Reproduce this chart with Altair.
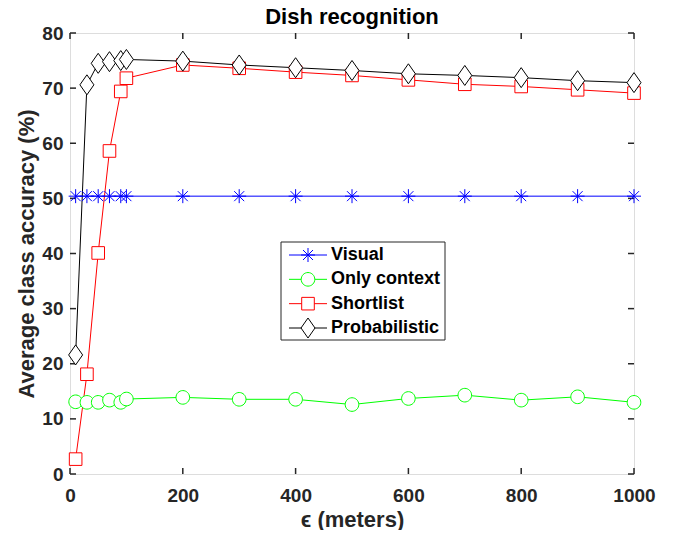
import altair as alt
import pandas as pd

x_vals = [10, 30, 50, 70, 90, 100, 200, 300, 400, 500, 600, 700, 800, 900, 1000]
visual = [50.4, 50.4, 50.4, 50.4, 50.4, 50.4, 50.4, 50.4, 50.4, 50.4, 50.4, 50.4, 50.4, 50.4, 50.4]
only_context = [13.1, 13.0, 13.0, 13.4, 13.0, 13.6, 13.9, 13.55, 13.55, 12.6, 13.7, 14.3, 13.4, 14.0, 13.0]
shortlist = [2.7, 18.1, 40.1, 58.6, 69.4, 71.8, 74.2, 73.6, 72.9, 72.3, 71.5, 70.7, 70.3, 69.7, 69.1]
probabilistic = [21.6, 70.6, 74.5, 74.8, 75.0, 75.2, 74.9, 74.2, 73.7, 73.2, 72.6, 72.3, 71.9, 71.35, 71.0]

series_names = ["Visual", "Only context", "Shortlist", "Probabilistic"]
series_colors = ["#0000ff", "#00ff00", "#ff0000", "#000000"]
x_ticks = [0, 200, 400, 600, 800, 1000]
y_ticks = [0, 10, 20, 30, 40, 50, 60, 70, 80]

marker_paths = [
    "M-0.7,0L0.7,0M0,-0.7L0,0.7M-0.5,-0.5L0.5,0.5M-0.5,0.5L0.5,-0.5",
    "M-0.68,0A0.68,0.68,0,1,0,0.68,0A0.68,0.68,0,1,0,-0.68,0Z",
    "M-0.63,-0.63L0.63,-0.63L0.63,0.63L-0.63,0.63Z",
    "M0,-1L0.7,0L0,1L-0.7,0Z",
]

rows = []
for name, vals in zip(series_names, [visual, only_context, shortlist, probabilistic]):
    for xv, yv in zip(x_vals, vals):
        rows.append({"series": name, "x": xv, "y": yv})
df = pd.DataFrame(rows)
leg_df = pd.DataFrame({"series": series_names})

FONT = "Liberation Sans"
AX = "#262626"
W, H = 564, 441

x_scale = alt.Scale(domain=[0, 1000], nice=False, zero=False)
y_scale = alt.Scale(domain=[0, 80], nice=False, zero=False)
stroke_scale = alt.Scale(domain=series_names, range=series_colors)

x_enc = alt.X(
    "x:Q", scale=x_scale,
    axis=alt.Axis(values=x_ticks, format="d", grid=False, domain=False, tickSize=0, labelFlush=False,
                  labelOverlap=False, labelFont=FONT, labelFontSize=19, labelFontWeight="bold",
                  labelColor=AX, labelPadding=12, title="ϵ (meters)", titleFont=FONT,
                  titleFontSize=22, titleFontWeight="bold", titleColor=AX,
                  titleX=282, titleY=52, titleBaseline="alphabetic"),
)
y_enc = alt.Y(
    "y:Q", scale=y_scale,
    axis=alt.Axis(values=y_ticks, grid=False, domain=False, tickSize=0, labelFlush=False,
                  labelOverlap=False, labelFont=FONT, labelFontSize=19, labelFontWeight="bold",
                  labelColor=AX, labelPadding=7, title="Average class accuracy (%)", titleFont=FONT,
                  titleFontSize=22, titleFontWeight="bold", titleColor=AX,
                  titleX=-37, titleY=220.5, titleBaseline="alphabetic"),
)

lines = alt.Chart(df).mark_line(strokeWidth=1).encode(
    x=x_enc, y=y_enc,
    stroke=alt.Stroke("series:N", scale=stroke_scale, legend=None),
    detail="series:N",
)

point_layers = []
for name, color, path in zip(series_names, series_colors, marker_paths):
    point_layers.append(
        alt.Chart(df).transform_filter(alt.datum.series == name).mark_point(
            shape=path, size=400, filled=False, fill="white", stroke=color,
            strokeWidth=1, opacity=1
        ).encode(x="x:Q", y="y:Q")
    )

xt = pd.DataFrame({"t": x_ticks})
yt = pd.DataFrame({"t": y_ticks})
tick_bottom = alt.Chart(xt).mark_rule(color=AX, strokeWidth=1.5).encode(
    x="t:Q", y=alt.value(H), y2=alt.value(H - 6))
tick_top = alt.Chart(xt).mark_rule(color=AX, strokeWidth=1.5).encode(
    x="t:Q", y=alt.value(0), y2=alt.value(6))
tick_left = alt.Chart(yt).mark_rule(color=AX, strokeWidth=1.5).encode(
    y="t:Q", x=alt.value(0), x2=alt.value(6))
tick_right = alt.Chart(yt).mark_rule(color=AX, strokeWidth=1.5).encode(
    y="t:Q", x=alt.value(W), x2=alt.value(W - 6))

main = alt.layer(tick_bottom, tick_top, tick_left, tick_right, lines, *point_layers)

# legend box (MATLAB style: line + marker + label)
leg_y = alt.Y("series:N", scale=alt.Scale(type="point", domain=series_names, range=[222, 295], padding=0),
              axis=None)
box = alt.Chart(pd.DataFrame({"a": [0]})).mark_rect(fill="white", stroke=AX, strokeWidth=1).encode(
    x=alt.value(211), x2=alt.value(375), y=alt.value(209), y2=alt.value(307))
leg_lines = alt.Chart(leg_df).mark_rule(strokeWidth=1).encode(
    x=alt.value(219), x2=alt.value(257), y=leg_y,
    stroke=alt.Stroke("series:N", scale=stroke_scale, legend=None))
leg_points = []
for name, color, path in zip(series_names, series_colors, marker_paths):
    leg_points.append(
        alt.Chart(leg_df).transform_filter(alt.datum.series == name).mark_point(
            shape=path, size=400, filled=False, fill="white", stroke=color,
            strokeWidth=1, opacity=1
        ).encode(x=alt.value(238), y=leg_y)
    )
leg_text = alt.Chart(leg_df).mark_text(
    align="left", baseline="middle", font=FONT, fontSize=18, fontWeight="bold", color="#000000"
).encode(x=alt.value(261), y=leg_y, text="series:N")

legend_group = alt.layer(box, leg_lines, *leg_points, leg_text)

chart = alt.layer(main, legend_group).resolve_scale(y="independent").properties(
    width=W, height=H,
    title=alt.TitleParams("Dish recognition", font=FONT, fontSize=22, fontWeight="bold",
                          color="#000000", anchor="middle", offset=0, dy=5),
    autosize=alt.AutoSizeParams(type="none"),
    padding={"left": 62, "top": 25, "right": 37, "bottom": 56},
).configure_view(stroke=AX, strokeWidth=2).configure(background="white")

chart.save("out.html", embed_options={"renderer": "svg", "actions": False})
